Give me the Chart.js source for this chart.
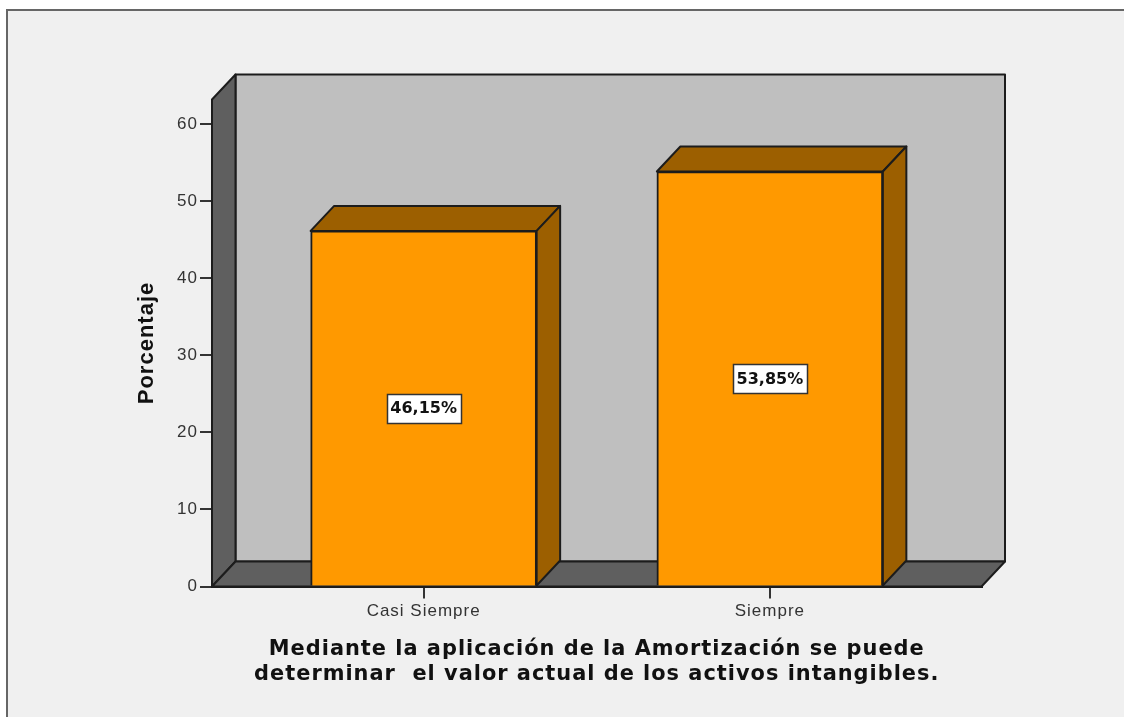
<!DOCTYPE html>
<html><head><meta charset="utf-8">
<style>
html,body{margin:0;padding:0;background:#fff;width:1124px;height:717px;overflow:hidden}
#frame{position:absolute;left:6px;top:9px;width:1118px;height:708px;box-sizing:border-box;background:#f0f0f0;border-left:2px solid #666;border-top:2px solid #666}
canvas{position:absolute;left:0;top:0}
</style>
<script src="https://cdn.jsdelivr.net/npm/chart.js@4"></script>
</head><body>
<div id="frame"></div>
<canvas id="c" width="1124" height="717"></canvas>
<script>
const categories = ["Casi Siempre", "Siempre"];
const categoryIndex = [0, 1];
const values = [46.15, 53.85];
const valueLabels = ["46,15%", "53,85%"];
const yTicks = [0, 10, 20, 30, 40, 50, 60];
const xTitle = ["Mediante la aplicación de la Amortización se puede", "determinar  el valor actual de los activos intangibles."];
const yTitle = "Porcentaje";

const DX = 23.5, DY = 25;
const LINE = "#1c1c1c", BACK = "#bfbfbf", DARK = "#5f5f5f", BAR = "#ff9900", BARSIDE = "#9c5f00";

function poly(ctx, pts, fill) {
  ctx.beginPath();
  pts.forEach((p, i) => i ? ctx.lineTo(p[0], p[1]) : ctx.moveTo(p[0], p[1]));
  ctx.closePath();
  ctx.fillStyle = fill; ctx.fill();
  ctx.lineWidth = 2; ctx.strokeStyle = LINE; ctx.lineJoin = "round"; ctx.stroke();
}

const box3d = {
  id: "box3d",
  beforeDraw(chart) {
    const {ctx, chartArea: a} = chart;
    ctx.save();
    poly(ctx, [[a.left + DX, a.top - DY], [a.right + DX, a.top - DY], [a.right + DX, a.bottom - DY], [a.left + DX, a.bottom - DY]], BACK);
    poly(ctx, [[a.left, a.top], [a.left + DX, a.top - DY], [a.left + DX, a.bottom - DY], [a.left, a.bottom]], DARK);
    poly(ctx, [[a.left, a.bottom], [a.left + DX, a.bottom - DY], [a.right + DX, a.bottom - DY], [a.right, a.bottom]], DARK);
    ctx.restore();
    ctx.letterSpacing = "1px";
  },
  beforeDatasetsDraw(chart) {
    const {ctx} = chart;
    ctx.letterSpacing = "0px";
    ctx.save();
    chart.getDatasetMeta(0).data.forEach(b => {
      const h = b.getProps(["x", "y", "base", "width"], true);
      const l = h.x - h.width / 2, r = h.x + h.width / 2;
      poly(ctx, [[l, h.y], [l + DX, h.y - DY], [r + DX, h.y - DY], [r, h.y]], BARSIDE);
      poly(ctx, [[r, h.y], [r + DX, h.y - DY], [r + DX, h.base - DY], [r, h.base]], BARSIDE);
    });
    ctx.restore();
  },
  afterDatasetsDraw(chart) {
    const {ctx} = chart;
    ctx.save();
    ctx.font = "bold 16px 'DejaVu Sans'";
    ctx.textAlign = "center"; ctx.textBaseline = "middle";
    chart.getDatasetMeta(0).data.forEach((b, i) => {
      const h = b.getProps(["x", "y", "base"], true);
      const cy = (h.y + h.base) / 2;
      const w = 74, ht = 29;
      const x0 = Math.round(h.x - w / 2) + .5, y0 = Math.round(cy - ht / 2) + .5;
      ctx.fillStyle = "#fff"; ctx.fillRect(x0, y0, w, ht);
      ctx.lineWidth = 1.5; ctx.strokeStyle = "#333"; ctx.strokeRect(x0, y0, w, ht);
      ctx.fillStyle = "#111"; ctx.fillText(valueLabels[i], h.x, cy + 1);
    });
    ctx.restore();
  }
};

new Chart(document.getElementById("c"), {
  type: "bar",
  data: {
    datasets: [{
      data: categoryIndex.map((x, i) => ({x, y: values[i]})),
      backgroundColor: BAR, borderColor: LINE, borderWidth: 2, borderSkipped: "bottom",
      barThickness: 226
    }]
  },
  options: {
    responsive: false, animation: false,
    layout: {padding: {left: 134, right: 142.5, top: 99.5, bottom: 30}},
    plugins: {legend: {display: false}, tooltip: {enabled: false}, title: {display: false}},
    scales: {
      x: {
        type: "linear", min: -0.6113, max: 1.6113, offset: false,
        afterBuildTicks: s => { s.ticks = categoryIndex.map(v => ({value: v})); },
        afterFit: s => { s.height = 100.5; },
        border: {color: LINE, width: 2, z: 1},
        grid: {offset: false, drawOnChartArea: false, drawTicks: true, tickLength: 12, color: "#333", lineWidth: 2},
        ticks: {autoSkip: false, maxRotation: 0, padding: 3, color: "#333",
          font: {family: "'Liberation Sans'", size: 17},
          callback: v => categories[v]},
        title: {display: true, text: xTitle, color: "#111", padding: 0,
          font: {family: "'DejaVu Sans'", weight: "bold", size: 20.9, lineHeight: 1.2}}
      },
      y: {
        min: 0, max: 63.2,
        afterBuildTicks: s => { s.ticks = yTicks.map(v => ({value: v})); },
        afterFit: s => { s.width = 78; },
        border: {color: LINE, width: 2},
        grid: {drawOnChartArea: false, drawTicks: true, tickLength: 12, color: "#333", lineWidth: 2},
        ticks: {padding: 2, color: "#333", font: {family: "'Liberation Sans'", size: 17}},
        title: {display: true, text: yTitle, color: "#111", padding: 0,
          font: {family: "'Liberation Sans'", weight: "bold", size: 22}}
      }
    }
  },
  plugins: [box3d]
});
</script>
</body></html>
